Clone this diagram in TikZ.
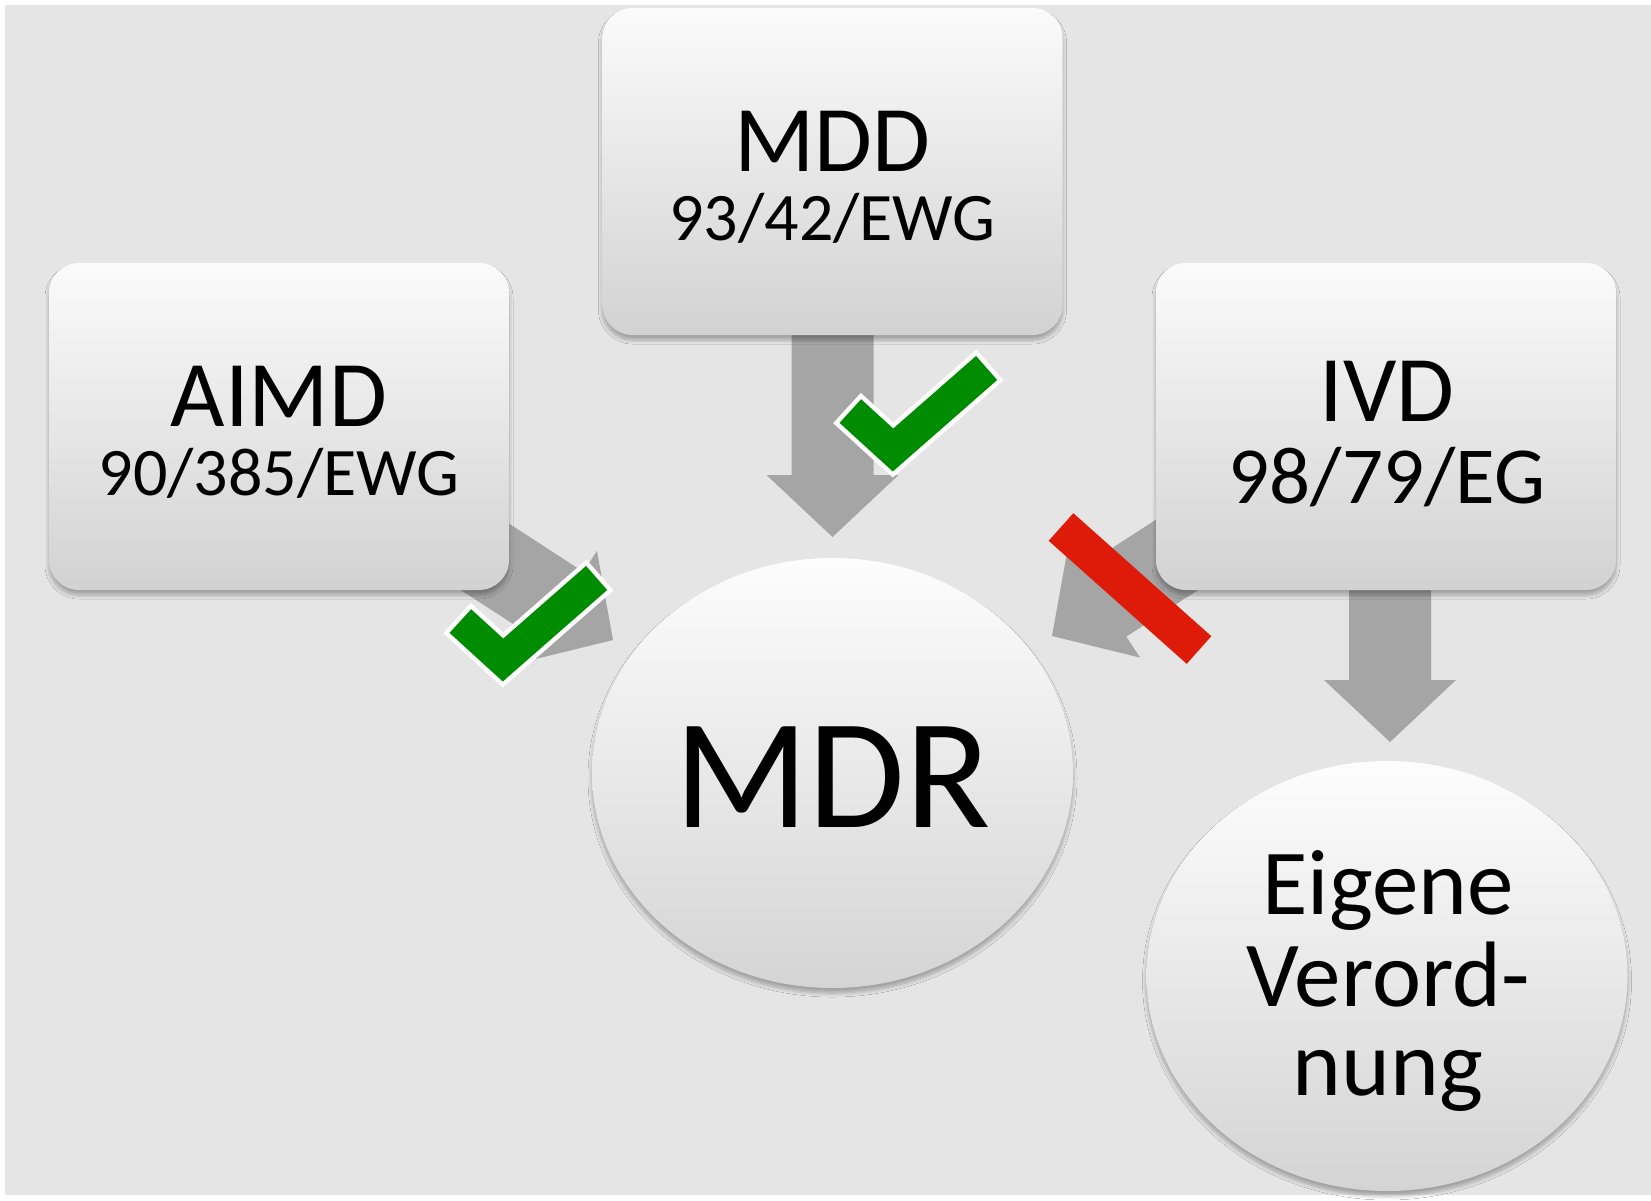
\documentclass[tikz,border=0pt]{standalone}
\usepackage{fontspec}
\setmainfont{Carlito}
\usetikzlibrary{shapes.geometric,shadows.blur}

\definecolor{bggray}{RGB}{229,229,229}
\definecolor{boxtop}{RGB}{251,251,251}
\definecolor{boxbot}{RGB}{210,210,210}
\definecolor{balltop}{RGB}{253,253,253}
\definecolor{ballbot}{RGB}{212,212,212}
\definecolor{arrowgray}{RGB}{165,165,165}
\definecolor{checkgreen}{RGB}{0,140,0}
\definecolor{barred}{RGB}{222,26,8}

\tikzset{
  softshadow/.style={blur shadow={shadow xshift=0pt, shadow yshift=-5pt,
      shadow blur radius=4pt, shadow blur steps=8, shadow opacity=30}},
  directive/.style={rectangle, rounded corners=30pt, inner sep=0pt,
      minimum width=460pt, minimum height=327pt,
      top color=boxtop, bottom color=boxbot, softshadow},
  regulation/.style={ellipse, inner sep=0pt,
      minimum width=481pt, minimum height=430pt,
      top color=balltop, bottom color=ballbot, softshadow},
  title/.style={anchor=base, inner sep=0pt, font=\fontsize{94}{94}\selectfont},
  subtitle/.style={anchor=base, inner sep=0pt, font=\fontsize{68}{68}\selectfont},
  bigtitle/.style={anchor=base, inner sep=0pt, font=\fontsize{157}{157}\selectfont},
  roundtitle/.style={anchor=base, inner sep=0pt, font=\fontsize{93}{93}\selectfont},
  blockarrowfill/.style={fill=arrowgray},
  checkouter/.style={draw=white, line width=41pt, line join=miter, line cap=butt},
  checkinner/.style={draw=checkgreen, line width=32pt, line join=miter, line cap=butt,
      shorten <=4.5pt, shorten >=4.5pt},
  crossbar/.style={draw=barred, line width=37pt, line cap=butt},
}

% block arrow: #1 tip, #2 direction (degrees), #3 total length
\newcommand{\blockarrow}[3]{%
  \fill[blockarrowfill, shift={(#1)}, rotate=#2]
    (0,0) -- (-62,66) -- (-62,41) -- (-#3,41) -- (-#3,-41)
    -- (-62,-41) -- (-62,-66) -- cycle;}

\begin{document}
\begin{tikzpicture}[x=1pt, y=-1pt]
  \useasboundingbox (0,0) rectangle (1651,1200);
  \fill[white] (0,0) rectangle (1651,1200);
  \fill[bggray] (5,5) rectangle (1651,1195);

  % arrow tips
  \coordinate (tipmdd) at (832.5,537);
  \coordinate (tipaimd) at (613,640);
  \coordinate (tipivd) at (1052,636);
  \coordinate (tipown) at (1390,742);

  % arrows (drawn first, their tails hide under the boxes)
  \blockarrow{tipmdd}{-90}{300}
  \blockarrow{tipaimd}{-33}{200}
  \blockarrow{tipivd}{-147}{200}
  \blockarrow{tipown}{-90}{250}

  % source directives
  \node[directive] (mdd) at (832.5,171.5) {};
  \node[directive] (aimd) at (279,426.5) {};
  \node[directive] (ivd) at (1386,426.5) {};

  % resulting regulations
  \node[regulation] (mdr) at (832.5,773) {};
  \node[regulation] (own) at (1387,976) {};

  % texts
  \node[title] (mddname) at (832.5,171) {MDD};
  \node[subtitle] (mddno) at (832.5,240) {93/42/EWG};
  \node[title] (aimdname) at (279,426) {AIMD};
  \node[subtitle] (aimdno) at (279,495) {90/385/EWG};
  \node[title] (ivdname) at (1387,421) {IVD};
  \node[subtitle, font=\fontsize{81}{81}\selectfont] (ivdno) at (1387,503) {98/79/EG};
  \node[bigtitle] (mdrname) at (832.5,827) {MDR};
  \node[roundtitle] (ownA) at (1388,914) {Eigene};
  \node[roundtitle] (ownB) at (1388,1006) {Verord-};
  \node[roundtitle] (ownC) at (1388,1095) {nung};

  % accepted: check marks
  \coordinate (ckAs) at (457,618);
  \coordinate (ckAv) at (503,660);
  \coordinate (ckAe) at (600,575);
  \coordinate (ckBs) at (847,408);
  \coordinate (ckBv) at (893,450);
  \coordinate (ckBe) at (990,365);
  \draw[checkouter] (ckAs) -- (ckAv) -- (ckAe);
  \draw[checkinner] (ckAs) -- (ckAv) -- (ckAe);
  \draw[checkouter] (ckBs) -- (ckBv) -- (ckBe);
  \draw[checkinner] (ckBs) -- (ckBv) -- (ckBe);

  % rejected: red bar
  \coordinate (barA) at (1061,527);
  \coordinate (barB) at (1199,650);
  \draw[crossbar] (barA) -- (barB);
\end{tikzpicture}
\end{document}
